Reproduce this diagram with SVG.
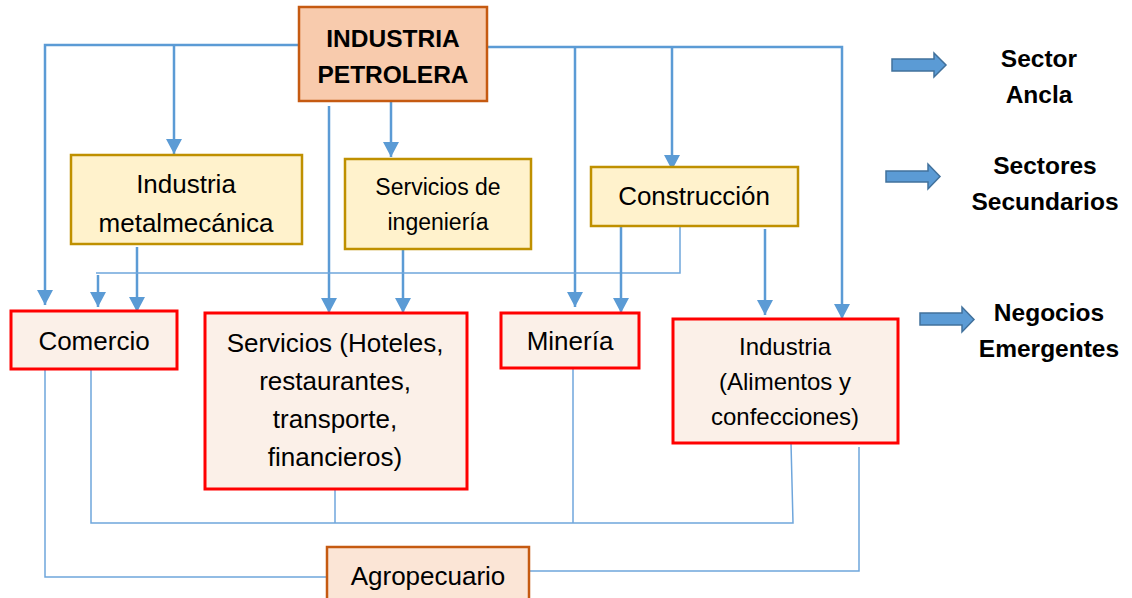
<svg xmlns="http://www.w3.org/2000/svg" width="1132" height="598" viewBox="0 0 1132 598">
<style>
.t{font-family:"Liberation Sans",Arial,sans-serif;font-size:26px;fill:#000;text-anchor:middle}
.b{font-weight:bold;font-size:24.5px}
.s{font-size:23px}
.m{font-size:24px}
.c{fill:none;stroke:#5b9bd5;stroke-width:2.5}
.th{fill:none;stroke:#6fa6dc;stroke-width:1.5}
.red{fill:#fbf0e8;stroke:#ff0000;stroke-width:3}
.yel{fill:#fff2cc;stroke:#bf9000;stroke-width:2.5}
.org{fill:#f8cbad;stroke:#c55a11;stroke-width:2.5}
.agr{fill:#fbe5d6;stroke:#c55a11;stroke-width:2.5}
.blk{fill:#5b9bd5;stroke:#41719c;stroke-width:1.5}
</style>
<defs>
<marker id="ah" markerUnits="userSpaceOnUse" markerWidth="16" markerHeight="16" viewBox="0 0 16 16" refX="15" refY="8" orient="auto">
<path d="M0,0 L15,8 L0,16 z" fill="#5b9bd5"/>
</marker>
</defs>

<g id="connectors">
<path class="c" d="M299,45 H45 V305" marker-end="url(#ah)"/>
<path class="c" d="M174,45 V154" marker-end="url(#ah)"/>
<path class="c" d="M329,106 V313" marker-end="url(#ah)"/>
<path class="c" d="M391,101 V157" marker-end="url(#ah)"/>
<path class="c" d="M487,47 H842 V319" marker-end="url(#ah)"/>
<path class="c" d="M575,47 V307" marker-end="url(#ah)"/>
<path class="c" d="M672,47 V170" marker-end="url(#ah)"/>
<path class="c" d="M137,247 V312" marker-end="url(#ah)"/>
<path class="c" d="M403,249 V313" marker-end="url(#ah)"/>
<path class="th" d="M690,226 H680 V273 H96"/>
<path class="c" d="M98,275 V307" marker-end="url(#ah)"/>
<path class="c" d="M621,227 V313" marker-end="url(#ah)"/>
<path class="c" d="M765,229 V315" marker-end="url(#ah)"/>
<path class="th" d="M45,369 V577 H327"/>
<path class="th" d="M91,369 V523 H793 L791,443"/>
<path class="th" d="M335,489 V523"/>
<path class="th" d="M573,368 V523"/>
<path class="th" d="M859,447 V571 H529"/>
</g>

<g id="industria-petrolera">
<rect class="org" x="299" y="7" width="188" height="94"/>
<text class="t b" x="393" y="47">INDUSTRIA</text>
<text class="t b" x="393" y="83">PETROLERA</text>
</g>

<g id="metalmecanica">
<rect class="yel" x="71" y="155" width="231" height="89"/>
<text class="t" x="186" y="193">Industria</text>
<text class="t" x="186" y="232">metalmecánica</text>
</g>

<g id="servicios-ingenieria">
<rect class="yel" x="345" y="159" width="186" height="90"/>
<text class="t s" x="438" y="195">Servicios de</text>
<text class="t s" x="438" y="230">ingeniería</text>
</g>

<g id="construccion">
<rect class="yel" x="591" y="167" width="207" height="59"/>
<text class="t" x="694" y="205">Construcción</text>
</g>

<g id="comercio">
<rect class="red" x="11" y="311" width="166" height="58"/>
<text class="t" x="94" y="350">Comercio</text>
</g>

<g id="servicios">
<rect class="red" x="205" y="313" width="262" height="176"/>
<text class="t" x="335" y="352">Servicios (Hoteles,</text>
<text class="t" x="335" y="390">restaurantes,</text>
<text class="t" x="335" y="428">transporte,</text>
<text class="t" x="335" y="466">financieros)</text>
</g>

<g id="mineria">
<rect class="red" x="501" y="313" width="138" height="55"/>
<text class="t" x="570" y="350">Minería</text>
</g>

<g id="industria">
<rect class="red" x="673" y="319" width="225" height="124"/>
<text class="t m" x="785" y="355">Industria</text>
<text class="t m" x="785" y="390">(Alimentos y</text>
<text class="t m" x="785" y="425">confecciones)</text>
</g>

<g id="agropecuario">
<rect class="agr" x="327" y="547" width="202" height="60"/>
<text class="t" x="428" y="585">Agropecuario</text>
</g>

<g id="legend-ancla">
<path class="blk" d="M892,59 H934 V53 L946,65 L934,77 V71 H892 z"/>
<text class="t b" x="1039" y="67">Sector</text>
<text class="t b" x="1039" y="103">Ancla</text>
</g>

<g id="legend-secundarios">
<path class="blk" d="M886,171 H928 V164 L940,176.5 L928,189 V182 H886 z"/>
<text class="t b" x="1045" y="174">Sectores</text>
<text class="t b" x="1045" y="210">Secundarios</text>
</g>

<g id="legend-emergentes">
<path class="blk" d="M920,313 H962 V307 L974,319.5 L962,332 V325 H920 z"/>
<text class="t b" x="1049" y="321">Negocios</text>
<text class="t b" x="1049" y="357">Emergentes</text>
</g>
</svg>
